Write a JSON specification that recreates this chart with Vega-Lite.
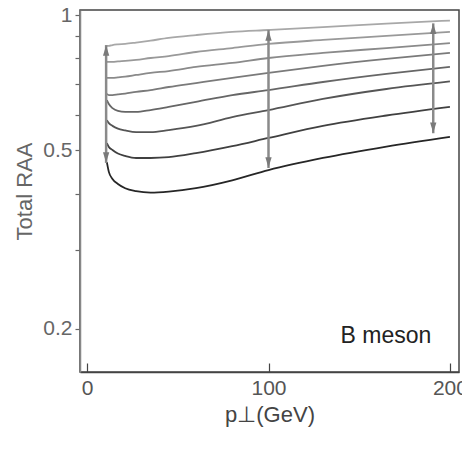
{
  "$schema": "https://vega.github.io/schema/vega-lite/v6.json",
  "autosize": {"type": "none"},
  "width": 379,
  "height": 362,
  "padding": {"left": 80, "top": 10, "right": 3, "bottom": 81},
  "background": "white",
  "config": {
    "view": {"stroke": "#444", "strokeWidth": 1.5},
    "font": "Liberation Sans"
  },
  "datasets": {
    "curves": [
      {"p": 10.9, "r": 0.853, "c": "c1"}, {"p": 12, "r": 0.853, "c": "c1"}, {"p": 14, "r": 0.857, "c": "c1"}, {"p": 17, "r": 0.860, "c": "c1"}, {"p": 21, "r": 0.862, "c": "c1"}, {"p": 27, "r": 0.868, "c": "c1"}, {"p": 35, "r": 0.877, "c": "c1"}, {"p": 45, "r": 0.889, "c": "c1"}, {"p": 60, "r": 0.902, "c": "c1"}, {"p": 80, "r": 0.917, "c": "c1"}, {"p": 100, "r": 0.926, "c": "c1"}, {"p": 130, "r": 0.940, "c": "c1"}, {"p": 165, "r": 0.957, "c": "c1"}, {"p": 200, "r": 0.972, "c": "c1"},
      {"p": 10.9, "r": 0.786, "c": "c2"}, {"p": 12, "r": 0.786, "c": "c2"}, {"p": 14, "r": 0.786, "c": "c2"}, {"p": 17, "r": 0.788, "c": "c2"}, {"p": 21, "r": 0.790, "c": "c2"}, {"p": 27, "r": 0.794, "c": "c2"}, {"p": 35, "r": 0.802, "c": "c2"}, {"p": 45, "r": 0.810, "c": "c2"}, {"p": 60, "r": 0.827, "c": "c2"}, {"p": 80, "r": 0.844, "c": "c2"}, {"p": 100, "r": 0.862, "c": "c2"}, {"p": 130, "r": 0.880, "c": "c2"}, {"p": 165, "r": 0.898, "c": "c2"}, {"p": 200, "r": 0.917, "c": "c2"},
      {"p": 10.9, "r": 0.724, "c": "c3"}, {"p": 12, "r": 0.724, "c": "c3"}, {"p": 14, "r": 0.724, "c": "c3"}, {"p": 17, "r": 0.726, "c": "c3"}, {"p": 21, "r": 0.729, "c": "c3"}, {"p": 27, "r": 0.735, "c": "c3"}, {"p": 35, "r": 0.743, "c": "c3"}, {"p": 45, "r": 0.750, "c": "c3"}, {"p": 60, "r": 0.766, "c": "c3"}, {"p": 80, "r": 0.782, "c": "c3"}, {"p": 100, "r": 0.802, "c": "c3"}, {"p": 130, "r": 0.823, "c": "c3"}, {"p": 165, "r": 0.844, "c": "c3"}, {"p": 200, "r": 0.866, "c": "c3"},
      {"p": 10.9, "r": 0.667, "c": "c4"}, {"p": 12, "r": 0.663, "c": "c4"}, {"p": 14, "r": 0.663, "c": "c4"}, {"p": 17, "r": 0.665, "c": "c4"}, {"p": 21, "r": 0.668, "c": "c4"}, {"p": 27, "r": 0.674, "c": "c4"}, {"p": 35, "r": 0.680, "c": "c4"}, {"p": 45, "r": 0.691, "c": "c4"}, {"p": 60, "r": 0.705, "c": "c4"}, {"p": 80, "r": 0.724, "c": "c4"}, {"p": 100, "r": 0.743, "c": "c4"}, {"p": 130, "r": 0.770, "c": "c4"}, {"p": 165, "r": 0.798, "c": "c4"}, {"p": 200, "r": 0.823, "c": "c4"},
      {"p": 10.9, "r": 0.646, "c": "c5"}, {"p": 12, "r": 0.633, "c": "c5"}, {"p": 14, "r": 0.620, "c": "c5"}, {"p": 17, "r": 0.611, "c": "c5"}, {"p": 21, "r": 0.608, "c": "c5"}, {"p": 27, "r": 0.608, "c": "c5"}, {"p": 35, "r": 0.614, "c": "c5"}, {"p": 45, "r": 0.624, "c": "c5"}, {"p": 60, "r": 0.640, "c": "c5"}, {"p": 80, "r": 0.663, "c": "c5"}, {"p": 100, "r": 0.680, "c": "c5"}, {"p": 130, "r": 0.709, "c": "c5"}, {"p": 165, "r": 0.739, "c": "c5"}, {"p": 200, "r": 0.766, "c": "c5"},
      {"p": 10.9, "r": 0.583, "c": "c6"}, {"p": 12, "r": 0.574, "c": "c6"}, {"p": 14, "r": 0.566, "c": "c6"}, {"p": 17, "r": 0.558, "c": "c6"}, {"p": 21, "r": 0.553, "c": "c6"}, {"p": 27, "r": 0.548, "c": "c6"}, {"p": 35, "r": 0.548, "c": "c6"}, {"p": 45, "r": 0.554, "c": "c6"}, {"p": 60, "r": 0.566, "c": "c6"}, {"p": 80, "r": 0.592, "c": "c6"}, {"p": 100, "r": 0.614, "c": "c6"}, {"p": 130, "r": 0.650, "c": "c6"}, {"p": 165, "r": 0.684, "c": "c6"}, {"p": 200, "r": 0.711, "c": "c6"},
      {"p": 10.9, "r": 0.518, "c": "c7"}, {"p": 12, "r": 0.508, "c": "c7"}, {"p": 14, "r": 0.500, "c": "c7"}, {"p": 17, "r": 0.491, "c": "c7"}, {"p": 21, "r": 0.485, "c": "c7"}, {"p": 27, "r": 0.480, "c": "c7"}, {"p": 35, "r": 0.480, "c": "c7"}, {"p": 45, "r": 0.482, "c": "c7"}, {"p": 60, "r": 0.492, "c": "c7"}, {"p": 80, "r": 0.510, "c": "c7"}, {"p": 100, "r": 0.532, "c": "c7"}, {"p": 130, "r": 0.566, "c": "c7"}, {"p": 165, "r": 0.597, "c": "c7"}, {"p": 200, "r": 0.624, "c": "c7"},
      {"p": 10.9, "r": 0.470, "c": "c8"}, {"p": 12, "r": 0.447, "c": "c8"}, {"p": 14, "r": 0.431, "c": "c8"}, {"p": 17, "r": 0.420, "c": "c8"}, {"p": 21, "r": 0.411, "c": "c8"}, {"p": 27, "r": 0.405, "c": "c8"}, {"p": 35, "r": 0.402, "c": "c8"}, {"p": 45, "r": 0.404, "c": "c8"}, {"p": 60, "r": 0.411, "c": "c8"}, {"p": 80, "r": 0.428, "c": "c8"}, {"p": 100, "r": 0.451, "c": "c8"}, {"p": 130, "r": 0.480, "c": "c8"}, {"p": 165, "r": 0.509, "c": "c8"}, {"p": 200, "r": 0.535, "c": "c8"}
    ],
    "arrows": [
      {"p": 10.5, "top": 0.857, "bot": 0.468},
      {"p": 100, "top": 0.926, "bot": 0.456},
      {"p": 190.8, "top": 0.958, "bot": 0.545}
    ],
    "label": [{"p": 164.7, "r": 0.1924, "t": "B meson"}]
  },
  "encoding": {
    "x": {
      "field": "p", "type": "quantitative",
      "scale": {"domain": [-3.9, 205], "nice": false, "zero": false},
      "axis": {
        "values": [0, 100, 200], "grid": false, "title": "p⊥(GeV)",
        "domainColor": "#444", "domainWidth": 1.5,
        "tickColor": "#444", "tickSize": -9, "tickWidth": 1.2,
        "labelPadding": 14, "labelFontSize": 21, "labelColor": "#555", "labelFont": "Liberation Sans",
        "titleFontSize": 22, "titleFontWeight": "normal", "titleColor": "#444", "titleFont": "Liberation Sans", "titlePadding": 6
      }
    }
  },
  "layer": [
    {
      "data": {"name": "curves"},
      "mark": {"type": "line", "interpolate": "monotone", "strokeWidth": 1.8},
      "encoding": {
        "y": {
          "field": "r", "type": "quantitative",
          "scale": {"type": "log", "domain": [0.16, 1.026], "nice": false, "zero": false},
          "axis": {
            "values": [0.2, 0.3, 0.4, 0.5, 0.6, 0.7, 0.8, 0.9, 1],
            "format": "~g",
            "labelExpr": "(datum.value == 0.2 || datum.value == 0.5 || datum.value == 1) ? datum.label : ''",
            "grid": false, "title": "Total RAA",
            "domainColor": "#888", "domainWidth": 1.5,
            "tickColor": "#666", "tickSize": 5, "tickWidth": 1.2,
            "labelPadding": 3, "labelFontSize": 21, "labelColor": "#666", "labelFont": "Liberation Sans",
            "titleFontSize": 22, "titleFontWeight": "normal", "titleColor": "#666", "titleFont": "Liberation Sans", "titlePadding": 6
          }
        },
        "color": {
          "field": "c", "type": "nominal", "legend": null,
          "scale": {"domain": ["c1", "c2", "c3", "c4", "c5", "c6", "c7", "c8"],
                    "range": ["#a8a8a8", "#999999", "#8a8a8a", "#7a7a7a", "#666666", "#555555", "#404040", "#262626"]}
        }
      }
    },
    {
      "data": {"name": "arrows"},
      "mark": {"type": "rule", "color": "#8a8a8a", "strokeWidth": 2.5},
      "encoding": {
        "y": {"field": "top", "type": "quantitative"},
        "y2": {"field": "bot"}
      }
    },
    {
      "data": {"name": "arrows"},
      "mark": {"type": "point", "filled": true, "color": "#7a7a7a", "opacity": 1, "size": 110, "shape": "M0,-1L0.6,1L-0.6,1Z", "yOffset": 5.5},
      "encoding": {"y": {"field": "top", "type": "quantitative"}}
    },
    {
      "data": {"name": "arrows"},
      "mark": {"type": "point", "filled": true, "color": "#7a7a7a", "opacity": 1, "size": 110, "shape": "M0,1L0.6,-1L-0.6,-1Z", "yOffset": -5.5},
      "encoding": {"y": {"field": "bot", "type": "quantitative"}}
    },
    {
      "data": {"name": "label"},
      "mark": {"type": "text", "fontSize": 23, "color": "#222", "font": "Liberation Sans", "align": "center", "baseline": "middle"},
      "encoding": {
        "y": {"field": "r", "type": "quantitative"},
        "text": {"field": "t"}
      }
    }
  ]
}
